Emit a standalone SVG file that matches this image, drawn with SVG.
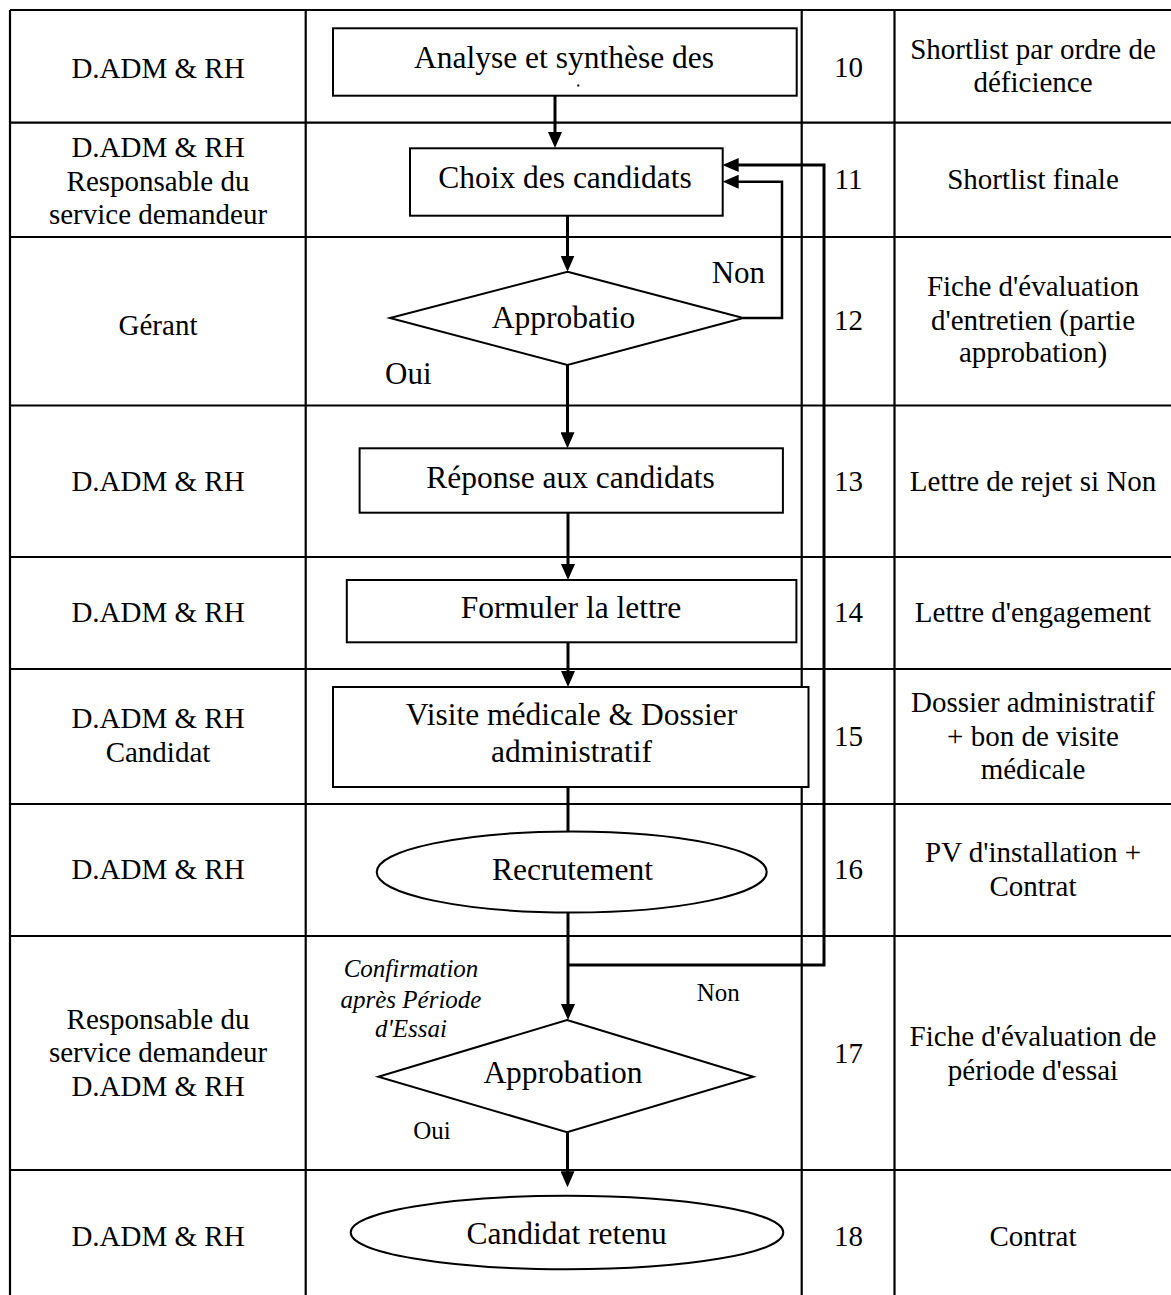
<svg xmlns="http://www.w3.org/2000/svg" width="1171" height="1295" viewBox="0 0 1171 1295">
<defs>
<marker id="ah" markerUnits="userSpaceOnUse" markerWidth="16" markerHeight="14" refX="6" refY="7" orient="auto"><path d="M0,0 L16,7 L0,14 z" fill="#000"/></marker>
<style>
.grid{stroke:#000;stroke-width:2.2;fill:none}
.shape{fill:#fff;stroke:#000;stroke-width:2}
.flow{fill:none;stroke:#000;stroke-width:3}
.t{font-family:"Liberation Serif","Times New Roman",serif;fill:#000}
.cell{font-size:29px;text-anchor:middle}
.node{font-size:31.5px;text-anchor:middle}
.lbl{font-size:31px}
.sml{font-size:25px}
.it{font-size:25px;font-style:italic;text-anchor:middle}
</style>
</defs>
<rect width="1171" height="1295" fill="#fff"/>
<g id="table" class="grid">
<path d="M10,10 H1171 M10,122.7 H1171 M10,237 H1171 M10,405.5 H1171 M10,557 H1171 M10,669 H1171 M10,804 H1171 M10,936 H1171 M10,1170 H1171"/>
<path d="M10,10 V1295 M305.7,10 V1295 M801.7,10 V1295 M894.5,10 V1295"/>
</g>
<g id="col-actors" class="t cell">
<text x="158" y="78">D.ADM &amp; RH</text>
<text x="158" y="157">D.ADM &amp; RH</text>
<text x="158" y="191">Responsable du</text>
<text x="158" y="224">service demandeur</text>
<text x="158" y="335">Gérant</text>
<text x="158" y="491">D.ADM &amp; RH</text>
<text x="158" y="622">D.ADM &amp; RH</text>
<text x="158" y="728">D.ADM &amp; RH</text>
<text x="158" y="762">Candidat</text>
<text x="158" y="879">D.ADM &amp; RH</text>
<text x="158" y="1029">Responsable du</text>
<text x="158" y="1062">service demandeur</text>
<text x="158" y="1096">D.ADM &amp; RH</text>
<text x="158" y="1246">D.ADM &amp; RH</text>
</g>
<g id="col-numbers" class="t cell">
<text x="848.5" y="77">10</text>
<text x="848.5" y="189">11</text>
<text x="848.5" y="330">12</text>
<text x="848.5" y="491">13</text>
<text x="848.5" y="622">14</text>
<text x="848.5" y="746">15</text>
<text x="848.5" y="879">16</text>
<text x="848.5" y="1063">17</text>
<text x="848.5" y="1246">18</text>
</g>
<g id="col-docs" class="t cell">
<text x="1033" y="59">Shortlist par ordre de</text>
<text x="1033" y="92">déficience</text>
<text x="1033" y="189">Shortlist finale</text>
<text x="1033" y="296">Fiche d'évaluation</text>
<text x="1033" y="330">d'entretien (partie</text>
<text x="1033" y="362">approbation)</text>
<text x="1033" y="491">Lettre de rejet si Non</text>
<text x="1033" y="622">Lettre d'engagement</text>
<text x="1033" y="712">Dossier administratif</text>
<text x="1033" y="746">+ bon de visite</text>
<text x="1033" y="779">médicale</text>
<text x="1033" y="862">PV d'installation +</text>
<text x="1033" y="896">Contrat</text>
<text x="1033" y="1046">Fiche d'évaluation de</text>
<text x="1033" y="1080">période d'essai</text>
<text x="1033" y="1246">Contrat</text>
</g>
<g id="connectors" class="flow">
<path d="M555,95.7 V138" marker-end="url(#ah)"/>
<path d="M567.5,215.7 V261.7" marker-end="url(#ah)"/>
<path d="M743,318 H782 V181.7 H732.7" stroke-width="2.5" marker-end="url(#ah)"/>
<path d="M567.5,365 V438.3" marker-end="url(#ah)"/>
<path d="M568,512.7 V570" marker-end="url(#ah)"/>
<path d="M568,642.3 V677" marker-end="url(#ah)"/>
<path d="M568,787 V831.7"/>
<path d="M568,912.7 V1010" marker-end="url(#ah)"/>
<path d="M568,965 H824 V165 H732.7" marker-end="url(#ah)"/>
<path d="M567.5,1132.3 V1177.3" marker-end="url(#ah)"/>
</g>
<g id="n10">
<rect class="shape" x="333" y="28.3" width="463.7" height="67.4"/>
<text class="t node" x="564" y="68.3">Analyse et synthèse des</text>
<rect x="577.3" y="84.5" width="2" height="2" fill="#000"/>
</g>
<g id="n11">
<rect class="shape" x="410" y="148.3" width="312.7" height="67.4"/>
<text class="t node" x="565" y="188.3">Choix des candidats</text>
</g>
<g id="n12">
<polygon class="shape" points="567.5,271.7 743.3,318 567.5,365 390,318"/>
<text class="t node" x="563.5" y="328.3">Approbatio</text>
<text class="t lbl" x="711.7" y="282.7">Non</text>
<text class="t lbl" x="385" y="384">Oui</text>
</g>
<g id="n13">
<rect class="shape" x="359.6" y="448.3" width="423.3" height="64.4"/>
<text class="t node" x="570.5" y="488.3">Réponse aux candidats</text>
</g>
<g id="n14">
<rect class="shape" x="346.8" y="580" width="449.6" height="62.3"/>
<text class="t node" x="571" y="618.3">Formuler la lettre</text>
</g>
<g id="n15">
<rect class="shape" x="333" y="687" width="475.5" height="100"/>
<text class="t node" x="571.5" y="725">Visite médicale &amp; Dossier</text>
<text class="t node" x="571.5" y="761.7">administratif</text>
</g>
<g id="n16">
<ellipse class="shape" cx="571.7" cy="872" rx="195" ry="40.5"/>
<text class="t node" x="572.5" y="880">Recrutement</text>
</g>
<g id="n17">
<polygon class="shape" points="567,1020 753.3,1076.7 567,1132.3 378.3,1076.7"/>
<text class="t node" x="563" y="1082.7">Approbation</text>
<text class="t it" x="411" y="977">Confirmation</text>
<text class="t it" x="411" y="1007.5">après Période</text>
<text class="t it" x="411" y="1037">d'Essai</text>
<text class="t sml" x="696.7" y="1001">Non</text>
<text class="t sml" x="413.3" y="1139.3">Oui</text>
</g>
<g id="n18">
<ellipse class="shape" cx="567" cy="1232.5" rx="216.3" ry="36.8"/>
<text class="t node" x="566.7" y="1244.3">Candidat retenu</text>
</g>
</svg>
